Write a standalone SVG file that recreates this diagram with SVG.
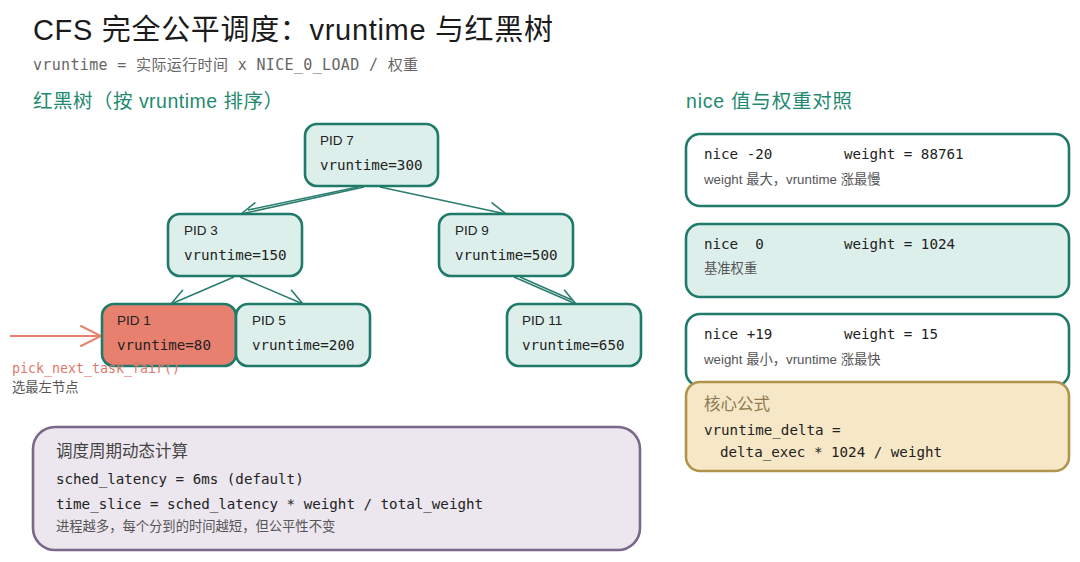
<svg xmlns="http://www.w3.org/2000/svg" width="1080" height="562" viewBox="0 0 1080 562">
<defs>
<marker id="ah" viewBox="0 0 20 20" refX="18" refY="10" markerWidth="20" markerHeight="20" markerUnits="userSpaceOnUse" orient="auto">
<path d="M2,2 L18,10 L2,18" fill="none" stroke="#2a7d6e" stroke-width="1.6" stroke-linecap="round"/>
</marker>
<marker id="ahr" viewBox="0 0 24 24" refX="22" refY="12" markerWidth="24" markerHeight="24" markerUnits="userSpaceOnUse" orient="auto">
<path d="M2,2 L22,12 L2,22" fill="none" stroke="#e8826f" stroke-width="2" stroke-linecap="round"/>
</marker>
</defs>
<style>
.bg{fill:#ffffff}
.node{fill:#dcefeb;stroke:#1f7a6a;stroke-width:2.6}
.hot{fill:#e8806f;stroke:#1f7a6a;stroke-width:2.6}
.wbox{fill:#ffffff;stroke:#1f7a6a;stroke-width:2.6}
.tbox{fill:#dcefeb;stroke:#1f7a6a;stroke-width:2.6}
.ybox{fill:#f6e7c6;stroke:#b0944e;stroke-width:2.6}
.pbox{fill:#ece6ef;stroke:#7a6888;stroke-width:2.6}
.mono{font-family:"DejaVu Sans Mono","Liberation Mono","Noto Sans CJK SC",monospace;font-size:14.2px;fill:#222222}
.pid{font-family:"Liberation Sans","Noto Sans CJK SC",sans-serif;font-size:13.5px;fill:#222222}
.note{font-family:"Liberation Sans","Noto Sans CJK SC",sans-serif;font-size:13.3px;fill:#555555}
.head{font-family:"Liberation Sans","Noto Sans CJK SC",sans-serif;font-size:19.5px;fill:#1f8a70}
.edge{fill:none;stroke:#2a7d6e;stroke-width:1.6}
</style>
<rect class="bg" x="0" y="0" width="1080" height="562"/>
<g id="title">
<text x="33" y="40" font-family="Liberation Sans,Noto Sans CJK SC,sans-serif" font-size="29" fill="#1b1b1b" textLength="520" lengthAdjust="spacing">CFS 完全公平调度：vruntime 与红黑树</text>
<text x="33" y="70" font-family="DejaVu Sans Mono,Noto Sans CJK SC,monospace" font-size="15" fill="#666666" textLength="385" lengthAdjust="spacing">vruntime = 实际运行时间 x NICE_0_LOAD / 权重</text>
</g>
<g id="tree-heading"><text class="head" x="33" y="108" textLength="250" lengthAdjust="spacing">红黑树（按 vruntime 排序）</text></g>
<g id="connectors">
<path class="edge" d="M364,187 L241,214" marker-end="url(#ah)"/>
<path class="edge" d="M358,187 L248,210"/>
<path class="edge" d="M380,187 L506,214" marker-end="url(#ah)"/>
<path class="edge" d="M234,277 L171,304" marker-end="url(#ah)"/>
<path class="edge" d="M240,277 L303,304" marker-end="url(#ah)"/>
<path class="edge" d="M514,277 L576,304" marker-end="url(#ah)"/>
<path class="edge" d="M520,277 L572,300"/>
<path d="M10,336 L101,336" fill="none" stroke="#e8826f" stroke-width="2" marker-end="url(#ahr)"/>
</g>
<g id="pid7"><rect class="node" x="305" y="124" width="133" height="62" rx="12"/><text class="pid" x="320" y="145">PID 7</text><text class="mono" x="320" y="170">vruntime=300</text></g>
<g id="pid3"><rect class="node" x="168" y="214" width="134" height="62" rx="12"/><text class="pid" x="184" y="235">PID 3</text><text class="mono" x="184" y="260">vruntime=150</text></g>
<g id="pid9"><rect class="node" x="439" y="214" width="134" height="62" rx="12"/><text class="pid" x="455" y="235">PID 9</text><text class="mono" x="455" y="260">vruntime=500</text></g>
<g id="pid1"><rect class="hot" x="102" y="304" width="134" height="62" rx="12"/><text class="pid" x="117" y="325">PID 1</text><text class="mono" x="117" y="350">vruntime=80</text></g>
<g id="pid5"><rect class="node" x="236" y="304" width="134" height="62" rx="12"/><text class="pid" x="252" y="325">PID 5</text><text class="mono" x="252" y="350">vruntime=200</text></g>
<g id="pid11"><rect class="node" x="507" y="304" width="134" height="62" rx="12"/><text class="pid" x="522" y="325">PID 11</text><text class="mono" x="522" y="350">vruntime=650</text></g>
<g id="pick-label">
<text x="12" y="373" font-family="DejaVu Sans Mono,monospace" font-size="13.3" fill="#e0786a">pick_next_task_fair()</text>
<text class="note" x="12" y="392">选最左节点</text>
</g>
<g id="nice-heading"><text class="head" x="686" y="108" textLength="166" lengthAdjust="spacing">nice 值与权重对照</text></g>
<g id="nice-m20"><rect class="wbox" x="686" y="134" width="383" height="72" rx="14"/><text class="mono" x="704" y="159">nice -20</text><text class="mono" x="844" y="159">weight = 88761</text><text class="note" x="704" y="184">weight 最大，vruntime 涨最慢</text></g>
<g id="nice-0"><rect class="tbox" x="686" y="224" width="383" height="73" rx="14"/><text class="mono" x="704" y="249" xml:space="preserve">nice  0</text><text class="mono" x="844" y="249">weight = 1024</text><text class="note" x="704" y="273">基准权重</text></g>
<g id="nice-p19"><rect class="wbox" x="686" y="314" width="383" height="72" rx="14"/><text class="mono" x="704" y="339">nice +19</text><text class="mono" x="844" y="339">weight = 15</text><text class="note" x="704" y="364">weight 最小，vruntime 涨最快</text></g>
<g id="formula"><rect class="ybox" x="686" y="382" width="383" height="89" rx="14"/><text x="704" y="410" font-family="Liberation Sans,Noto Sans CJK SC,sans-serif" font-size="16.5" fill="#8c7a52">核心公式</text><text class="mono" x="704" y="435">vruntime_delta =</text><text class="mono" x="720" y="457">delta_exec * 1024 / weight</text></g>
<g id="period"><rect class="pbox" x="33" y="427" width="607" height="123" rx="22"/><text x="56" y="457" font-family="Liberation Sans,Noto Sans CJK SC,sans-serif" font-size="16.5" fill="#444444">调度周期动态计算</text><text class="mono" x="56" y="484">sched_latency = 6ms (default)</text><text class="mono" x="56" y="509">time_slice = sched_latency * weight / total_weight</text><text class="note" x="56" y="531">进程越多，每个分到的时间越短，但公平性不变</text></g>
</svg>
